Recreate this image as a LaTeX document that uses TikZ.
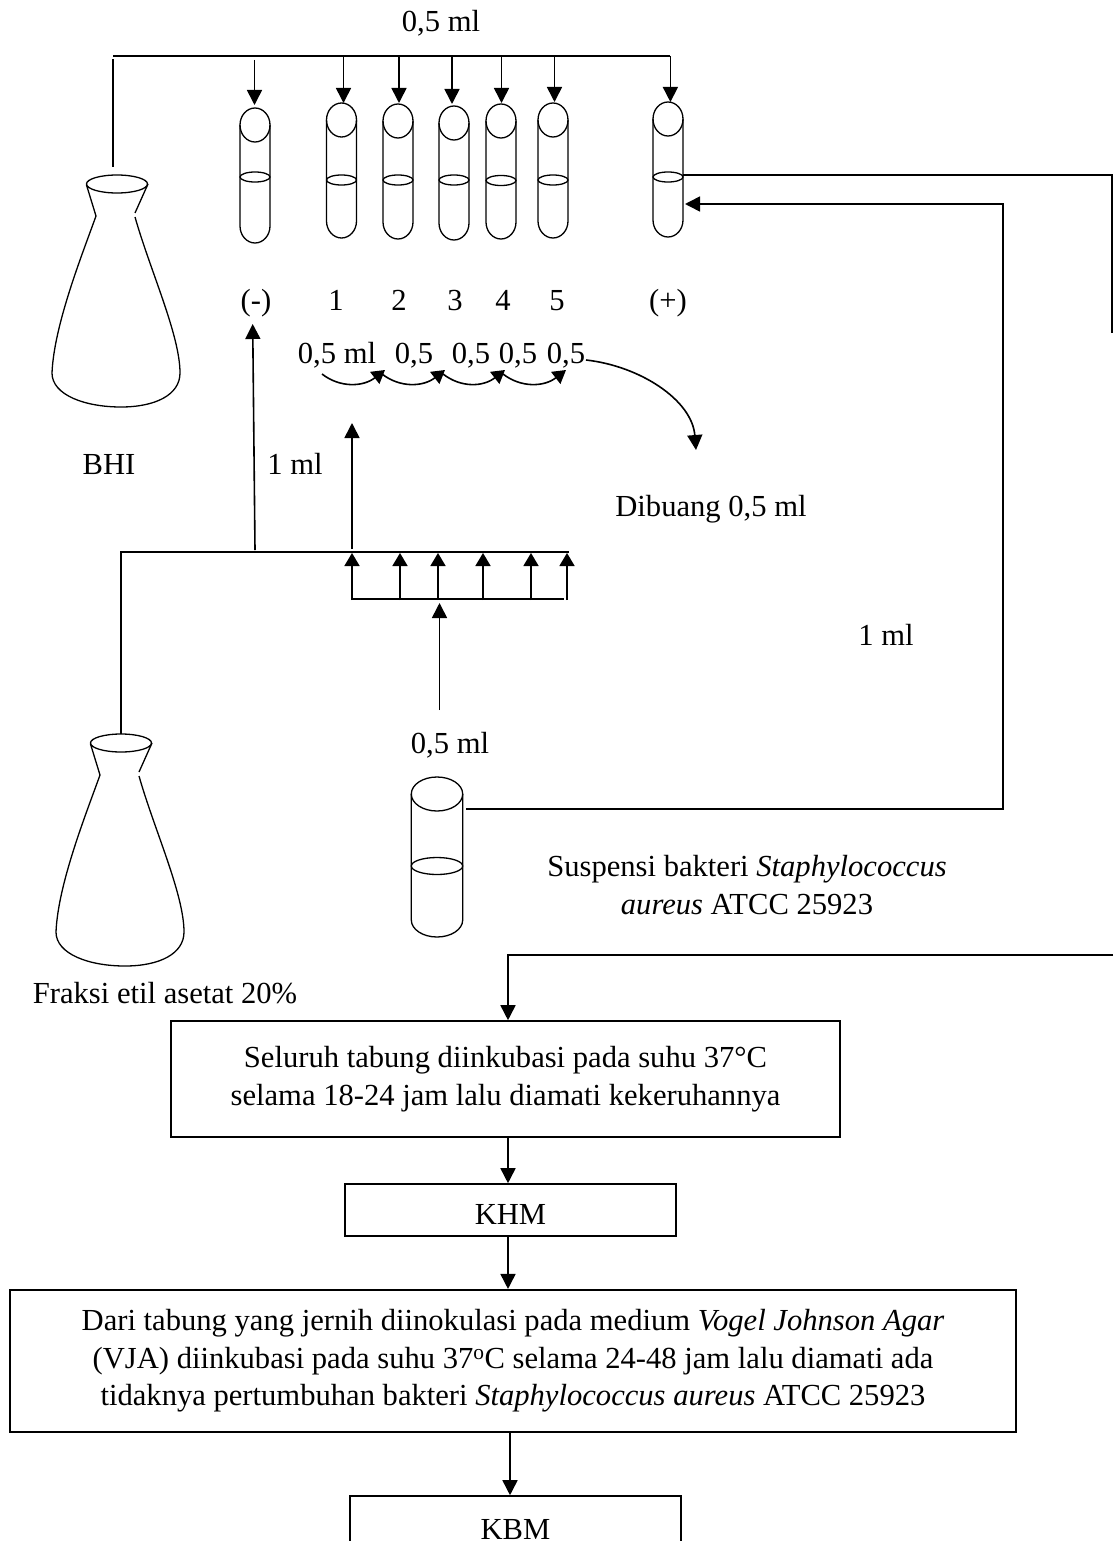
\documentclass[tikz,border=0pt]{standalone}
\usepackage{fontspec}
\setmainfont{Liberation Serif}
\usetikzlibrary{arrows.meta,calc}
\tikzset{
  lbl/.style={anchor=base,inner sep=0pt,font=\fontsize{30.6}{37.5}\selectfont},
  glass/.style={line width=1.3pt,line join=round},
  wire/.style={line width=1.6pt},
  arr/.style={line width=1.6pt,-{Triangle[length=15pt,width=15pt]}},
  sarr/.style={line width=1.6pt,-{Triangle[length=13pt,width=15pt]}},
  flowbox/.style={draw,line width=1.6pt,inner sep=0pt,align=center,font=\fontsize{30.6}{37.5}\selectfont}
}
\newcommand{\tube}[5]{% name, cx, top, bottom, liquid
  \coordinate (#1) at (#2,#3);
  \draw[glass] (#2,#3+17) ellipse [x radius=15,y radius=17];
  \draw[glass] (#2-15,#3+17) -- (#2-15,#4-17) arc[start angle=180,end angle=0,x radius=15,y radius=17] -- (#2+15,#3+17);
  \draw[glass] (#2,#5) ellipse [x radius=15,y radius=5];
}
\newcommand{\flask}[3]{% name, dx, dy
  \begin{scope}[shift={(#2,#3)}]
    \coordinate (#1) at (113,167);
    \draw[glass] (117,184) ellipse [x radius=30.5,y radius=9];
    \draw[glass] (86.5,185) -- (96,216);
    \draw[glass] (148,184) -- (135,213);
    \draw[glass] (96,216) .. controls (82,255) and (54,325) .. (52,373)
      .. controls (52,395) and (85,407) .. (121,407)
      .. controls (155,407) and (180,395) .. (180,373)
      .. controls (180,335) and (150,270) .. (135,217);
  \end{scope}
}
\begin{document}
\begin{tikzpicture}[x=1pt,y=-1pt]
\useasboundingbox (0,0) rectangle (1113,1541);
\clip (0,0) rectangle (1113,1541);

% tubes
\tube{tn}{255}{108}{243}{177}
\tube{t1}{341.5}{103}{238}{180}
\tube{t2}{398}{104}{239}{180}
\tube{t3}{454}{106}{240}{180}
\tube{t4}{501}{104}{239}{180.5}
\tube{t5}{553}{103}{238}{180}
\tube{tp}{668}{102}{237}{177}

% flasks
\flask{fa}{0}{0}
\flask{fb}{4}{559}

% suspension tube
\coordinate (ts) at (466,809);
\draw[glass] (437,794) ellipse [x radius=25.7,y radius=17];
\draw[glass] (411.3,794) -- (411.3,920) arc[start angle=180,end angle=0,x radius=25.7,y radius=17] -- (462.7,794);
\draw[glass] (437,866) ellipse [x radius=25.7,y radius=8.5];

% labels
\node[lbl] (ltop) at (441,32) {0,5 ml};
\node[lbl] (lneg) at (256,310) {(-)};
\node[lbl] (l1) at (336,310) {1};
\node[lbl] (l2) at (399,310) {2};
\node[lbl] (l3) at (455,310) {3};
\node[lbl] (l4) at (503,310) {4};
\node[lbl] (l5) at (557,310) {5};
\node[lbl] (lpos) at (668,310) {(+)};
\node[lbl] (d1) at (337,363) {0,5 ml};
\node[lbl] (d2) at (414,363) {0,5};
\node[lbl] (d3) at (471,363) {0,5};
\node[lbl] (d4) at (518,363) {0,5};
\node[lbl] (d5) at (566,363) {0,5};
\node[lbl] (bhi) at (109,474) {BHI};
\node[lbl] (ml1a) at (295,474) {1 ml};
\node[lbl] (dib) at (711,516) {Dibuang 0,5 ml};
\node[lbl] (ml1b) at (886,645) {1 ml};
\node[lbl] (ml05) at (450,753) {0,5 ml};
\node[lbl] (sus1) at (747,876) {Suspensi bakteri \textit{Staphylococcus}};
\node[lbl] (sus2) at (747,914) {\textit{aureus} ATCC 25923};
\node[lbl] (fr) at (165,1003) {Fraksi etil asetat 20\%};

% boxes
\node[flowbox,minimum width=669pt,minimum height=116pt] (b1) at (505.5,1079)
  {Seluruh tabung diinkubasi pada suhu 37°C\\selama 18-24 jam lalu diamati kekeruhannya};
\node[flowbox,minimum width=331pt,minimum height=52pt,text height=28pt,text depth=0pt] (khm) at (510.5,1210) {KHM};
\node[flowbox,minimum width=1006pt,minimum height=142.5pt] (b3) at (513,1361)
  {Dari tabung yang jernih diinokulasi pada medium \textit{Vogel Johnson Agar}\\
   (VJA) diinkubasi pada suhu 37\textsuperscript{o}C selama 24-48 jam lalu diamati ada\\
   tidaknya pertumbuhan bakteri \textit{Staphylococcus aureus} ATCC 25923};
\node[flowbox,minimum width=331pt,minimum height=60pt,text height=26pt,text depth=0pt] (kbm) at (515.5,1526) {KBM};

% top bus
\coordinate (busL) at (113,56);
\coordinate (busR) at (670.4,56);
\draw[line width=1.8pt] (busL) -- (busR);
\draw[wire] (fa) -- (113,59);
\foreach \n/\x/\s/\e in {tn/254.5/60/105,t1/343.5/57/103,t2/399/57/103,t3/452/57/104,t4/501.5/57/103,t5/554.5/57/102,tp/670.4/56/102}{
  \coordinate (s\n) at (\x,\s);
  \coordinate (e\n) at (\x,\e);
  \draw[arr] (s\n) -- (e\n);
}

% right-hand connectors
\coordinate (rout) at (683,175);
\coordinate (rc) at (1112,175);
\coordinate (rend) at (1112,333);
\draw[wire,line width=1.4pt] (rout) -- (rc) -- (rend);
\coordinate (sc) at (1003,809);
\coordinate (tc) at (1003,204);
\coordinate (tpin) at (685,204);
\draw[arr] (ts) -- (sc) -- (tc) -- (tpin);

% lower bus
\coordinate (lbL) at (121,552);
\coordinate (lbR) at (569,552);
\coordinate (fbm) at (121,734);
\draw[wire] (fbm) -- (lbL) -- (lbR);
\coordinate (up1s) at (255,550);
\coordinate (up1e) at (252.7,324);
\draw[arr] (up1s) -- (up1e);
\coordinate (up2s) at (352,549);
\coordinate (up2e) at (352,423);
\draw[arr] (up2s) -- (up2e);
\coordinate (barL) at (352,599);
\coordinate (barR) at (564,599);
\draw[wire] (barL) -- (barR);
\foreach \i/\x in {1/352,2/400,3/438,4/483,5/531,6/567}{
  \coordinate (us\i) at (\x,600);
  \coordinate (ue\i) at (\x,553);
  \draw[sarr] (us\i) -- (ue\i);
}
\coordinate (bs) at (439.5,710);
\coordinate (be) at (439.5,603);
\draw[arr] (bs) -- (be);

% transfer curves
\foreach \i/\a/\b in {1/322/385,2/382/445,3/443/505,4/503/566}{
  \coordinate (cs\i) at (\a,374);
  \coordinate (ce\i) at (\b,370);
  \draw[sarr] (cs\i) .. controls ($(cs\i)+(18,14)$) and ($(ce\i)+(-22,17)$) .. (ce\i);
}
\coordinate (ds) at (586,360);
\coordinate (de) at (696,450);
\draw[arr] (ds) .. controls (640,366) and (692,400) .. (de);

% flow connectors
\coordinate (fx) at (508,955);
\coordinate (fxr) at (1113,955);
\draw[arr] (fxr) -- (fx) -- (fx|-b1.north);
\draw[arr] (fx|-b1.south) -- (fx|-khm.north);
\draw[arr] (fx|-khm.south) -- (fx|-b3.north);
\coordinate (gx) at (510,1432);
\draw[arr] (gx|-b3.south) -- (gx|-kbm.north);
\end{tikzpicture}
\end{document}
